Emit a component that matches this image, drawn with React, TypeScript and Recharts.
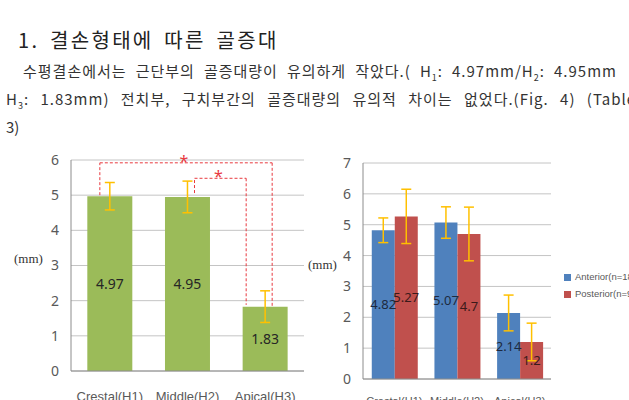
import React from 'react';
import {
  Bar,
  BarChart,
  CartesianGrid,
  ErrorBar,
  LabelList,
  Legend,
  ReferenceLine,
  XAxis,
  YAxis
} from 'recharts';

const zones = ['Crestal(H1)', 'Middle(H2)', 'Apical(H3)'];
const totalMean = [4.97, 4.95, 1.83];
const totalSd = [0.39, 0.45, 0.45];
const anteriorMean = [4.82, 5.07, 2.14];
const anteriorSd = [0.4, 0.51, 0.58];
const posteriorMean = [5.27, 4.7, 1.2];
const posteriorSd = [0.88, 0.87, 0.61];
const leftTicks = [0, 1, 2, 3, 4, 5, 6];
const rightTicks = [0, 1, 2, 3, 4, 5, 6, 7];

const totalData = zones.map((zone, i) => ({ zone, mean: totalMean[i], sd: totalSd[i] }));
const groupData = zones.map((zone, i) => ({
  zone,
  anterior: anteriorMean[i],
  anteriorSd: anteriorSd[i],
  posterior: posteriorMean[i],
  posteriorSd: posteriorSd[i]
}));

const FONT = '"Noto Sans", "Open Sans", sans-serif';
const AXISFONT = '"Liberation Sans", Arial, sans-serif';
const KR = '"Noto Sans CJK KR", "Noto Sans", sans-serif';
const RED = '#E8393F';
const GRID = '#c4c4c4';
const BORDER = '#8c8c8c';

// dashed significance bracket piece, shifted sideways off the bar centre
const bracket = (dx1: number, dx2: number, star = false) => (p: any) => (
  <g>
    <line
      x1={p.x1 + dx1}
      y1={p.y1}
      x2={p.x2 + dx2}
      y2={p.y2}
      stroke={RED}
      strokeWidth={1}
      strokeDasharray="3 2"
    />
    {star && (
      <text
        x={(p.x1 + dx1 + p.x2 + dx2) / 2 - 2}
        y={p.y1 + 4}
        textAnchor="middle"
        fill={RED}
        fontSize={16}
        fontFamily={FONT}
      >
        *
      </text>
    )}
  </g>
);

const sub = (n: string) => <sub style={{ fontSize: 9 }}>{n}</sub>;
const line1 = ['수평결손에서는', '근단부의', '골증대량이', '유의하게', '작았다.(',
  <>H{sub('1')}:</>, <>4.97mm/H{sub('2')}:</>, '4.95mm'];
const line2 = [<>H{sub('3')}:</>, '1.83mm)', '전치부,', '구치부간의', '골증대량의',
  '유의적', '차이는', '없었다.(Fig.', '4)', '(Table'];

const TextLine = ({ words, left, top, width }: { words: React.ReactNode[]; left: number; top: number; width: number }) => (
  <div
    style={{
      position: 'absolute',
      left,
      top,
      width,
      display: 'flex',
      justifyContent: 'space-between',
      fontFamily: KR,
      fontSize: 15,
      letterSpacing: 1,
      lineHeight: '20px',
      color: '#333',
      whiteSpace: 'nowrap'
    }}
  >
    {words.map((w, i) => (
      <span key={i}>{w}</span>
    ))}
  </div>
);

export default function App() {
  return (
    <div style={{ position: 'absolute', left: 0, top: 0, width: 629, height: 400, overflow: 'hidden', background: '#fff' }}>
      <div
        style={{
          position: 'absolute',
          left: 18,
          top: 26,
          fontFamily: KR,
          fontSize: 20,
          lineHeight: '28px',
          letterSpacing: 2.3,
          wordSpacing: 4,
          color: '#222',
          whiteSpace: 'nowrap'
        }}
      >
        1. 결손형태에 따른 골증대
      </div>
      <TextLine words={line1} left={23} top={61} width={594} />
      <TextLine words={line2} left={6} top={89} width={630} />
      <div style={{ position: 'absolute', left: 6, top: 117, fontFamily: KR, fontSize: 15, lineHeight: '20px', color: '#333' }}>
        3)
      </div>

      <div style={{ position: 'absolute', left: 0, top: 140 }}>
        <BarChart
          width={320}
          height={280}
          data={totalData}
          margin={{ top: 20, right: 16, bottom: 0, left: 0 }}
          barCategoryGap="21%"
        >
          <CartesianGrid vertical={false} stroke={GRID} />
          <XAxis
            dataKey="zone"
            height={49}
            tickLine={false}
            tickSize={0}
            tickMargin={21}
            axisLine={{ stroke: BORDER }}
            tick={{ fontSize: 13, fill: '#595959', fontFamily: AXISFONT }}
          />
          <YAxis
            width={71}
            domain={[0, 6]}
            ticks={leftTicks}
            tickLine={false}
            tickSize={0}
            tickMargin={12}
            axisLine={{ stroke: BORDER }}
            tick={{ fontSize: 14, fill: '#595959', fontFamily: FONT }}
            label={{ value: '(mm)', position: 'insideLeft', offset: 14, dy: -7, fontSize: 13, fill: '#333', fontFamily: '"Liberation Serif", serif' }}
          />
          <YAxis yAxisId="edge" orientation="right" width={0} domain={[0, 6]} tick={false} tickLine={false} axisLine={{ stroke: BORDER }} />
          <Bar dataKey="mean" fill="#9BBB59" isAnimationActive={false}>
            <ErrorBar dataKey="sd" width={5} stroke="#FFC000" strokeWidth={1.5} />
            <LabelList dataKey="mean" position="center" fill="#262626" fontSize={14} fontFamily={FONT} />
          </Bar>
          <ReferenceLine segment={[{ x: zones[0], y: 5.0 }, { x: zones[0], y: 5.92 }]} shape={bracket(-10, -10)} />
          <ReferenceLine segment={[{ x: zones[0], y: 5.92 }, { x: zones[2], y: 5.92 }]} shape={bracket(-10, 7, true)} />
          <ReferenceLine segment={[{ x: zones[2], y: 5.92 }, { x: zones[2], y: totalMean[2] }]} shape={bracket(7, 7)} />
          <ReferenceLine segment={[{ x: zones[1], y: 5.06 }, { x: zones[1], y: 5.48 }]} shape={bracket(7, 7)} />
          <ReferenceLine segment={[{ x: zones[1], y: 5.48 }, { x: zones[2], y: 5.48 }]} shape={bracket(7, -19, true)} />
          <ReferenceLine segment={[{ x: zones[2], y: 5.48 }, { x: zones[2], y: 1.88 }]} shape={bracket(-19, -19)} />
        </BarChart>
      </div>

      <div style={{ position: 'absolute', left: 300, top: 140 }}>
        <BarChart
          width={329}
          height={280}
          data={groupData}
          margin={{ top: 23, right: 78, bottom: 0, left: 0 }}
          barCategoryGap="14%"
          barGap={0}
        >
          <CartesianGrid vertical={false} stroke={GRID} />
          <XAxis
            dataKey="zone"
            height={41}
            tickLine={false}
            tickSize={0}
            tickMargin={18}
            axisLine={{ stroke: BORDER }}
            tick={{ fontSize: 11, fill: '#595959', fontFamily: AXISFONT }}
          />
          <YAxis
            width={63}
            domain={[0, 7]}
            ticks={rightTicks}
            tickLine={false}
            tickSize={0}
            tickMargin={12}
            axisLine={{ stroke: BORDER }}
            tick={{ fontSize: 14, fill: '#595959', fontFamily: FONT }}
            label={{ value: '(mm)', position: 'insideLeft', offset: 8, dy: -7, fontSize: 13, fill: '#333', fontFamily: '"Liberation Serif", serif' }}
          />
          <YAxis yAxisId="edge" orientation="right" width={0} domain={[0, 7]} tick={false} tickLine={false} axisLine={{ stroke: BORDER }} />
          <Legend
            layout="vertical"
            align="center"
            verticalAlign="middle"
            iconType="square"
            iconSize={7}
            wrapperStyle={{ left: 264, top: 128, width: 90, fontSize: 9.5, lineHeight: '17px', fontFamily: AXISFONT }}
            formatter={(v) => <span style={{ color: '#595959' }}>{v}</span>}
          />
          <Bar dataKey="anterior" name="Anterior(n=18)" fill="#4F81BD" isAnimationActive={false}>
            <ErrorBar dataKey="anteriorSd" width={5} stroke="#FFC000" strokeWidth={1.5} />
            <LabelList dataKey="anterior" position="center" fill="#1c2a40" fontSize={13} fontFamily={FONT} />
          </Bar>
          <Bar dataKey="posterior" name="Posterior(n=9)" fill="#C0504D" isAnimationActive={false}>
            <ErrorBar dataKey="posteriorSd" width={5} stroke="#FFC000" strokeWidth={1.5} />
            <LabelList dataKey="posterior" position="center" fill="#3a1a1a" fontSize={13} fontFamily={FONT} />
          </Bar>
        </BarChart>
      </div>
    </div>
  );
}
